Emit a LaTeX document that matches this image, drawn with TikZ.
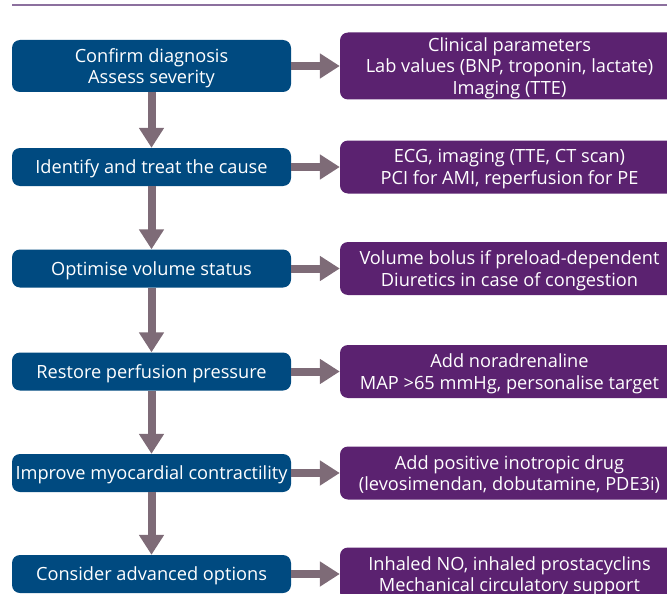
\documentclass[tikz,border=0pt]{standalone}
\usepackage{fontspec}
\setmainfont{Open Sans}
\usetikzlibrary{arrows.meta}
\definecolor{stepblue}{RGB}{0,74,128}
\definecolor{infopurple}{RGB}{91,34,112}
\definecolor{flowgrey}{RGB}{126,107,119}
\definecolor{rulepurple}{RGB}{140,112,158}
\begin{document}
\begin{tikzpicture}[x=1pt,y=-1pt,
    stepbox/.style={fill=stepblue,text=white,rounded corners=8pt,minimum width=279pt,
      minimum height=38pt,inner sep=0pt,text depth=0pt,align=center,font=\fontsize{18.2}{21.5}\selectfont},
    infobox/.style={fill=infopurple,text=white,rounded corners=8pt,minimum width=339pt,
      minimum height=53pt,inner sep=0pt,text depth=0pt,align=center,font=\fontsize{18.2}{21.5}\selectfont},
    flow/.style={draw=flowgrey,line width=8pt,-{Triangle[width=24pt,length=20pt]}}]
  \useasboundingbox (0,0) rectangle (667,594);
  \clip (0,0) rectangle (667,594);
  \draw[rulepurple,line width=1.5pt] (12,5) -- (667,5);
  \draw
    (151.5,66) node[stepbox,minimum height=52pt] (s1){Confirm diagnosis\\Assess severity}
    (151.5,167) node[stepbox] (s2){Identify and treat the cause}
    (151.5,268.5) node[stepbox] (s3){Optimise volume status}
    (151.5,371.5) node[stepbox] (s4){Restore perfusion pressure}
    (151.5,473) node[stepbox] (s5){Improve myocardial contractility}
    (151.5,574) node[stepbox] (s6){Consider advanced options};
  \draw
    (509.5,66) node[infobox,minimum height=67pt] (i1){Clinical parameters\\Lab values (BNP, troponin, lactate)\\Imaging (TTE)}
    (509.5,167) node[infobox] (i2){ECG, imaging (TTE, CT scan)\\PCI for AMI, reperfusion for PE}
    (509.5,268.5) node[infobox] (i3){Volume bolus if preload-dependent\\Diuretics in case of congestion}
    (509.5,371.5) node[infobox] (i4){Add noradrenaline\\MAP >65 mmHg, personalise target}
    (509.5,473) node[infobox] (i5){Add positive inotropic drug\\(levosimendan, dobutamine, PDE3i)}
    (509.5,574) node[infobox] (i6){Inhaled NO, inhaled prostacyclins\\Mechanical circulatory support};
  \begin{scope}[flow]
    \draw (s1) to (s2);
    \draw (s2) to (s3);
    \draw (s3) to (s4);
    \draw (s4) to (s5);
    \draw (s5) to (s6);
    \draw (s1) to (i1);
    \draw (s2) to (i2);
    \draw (s3) to (i3);
    \draw (s4) to (i4);
    \draw (s5) to (i5);
    \draw (s6) to (i6);
  \end{scope}
\end{tikzpicture}
\end{document}
